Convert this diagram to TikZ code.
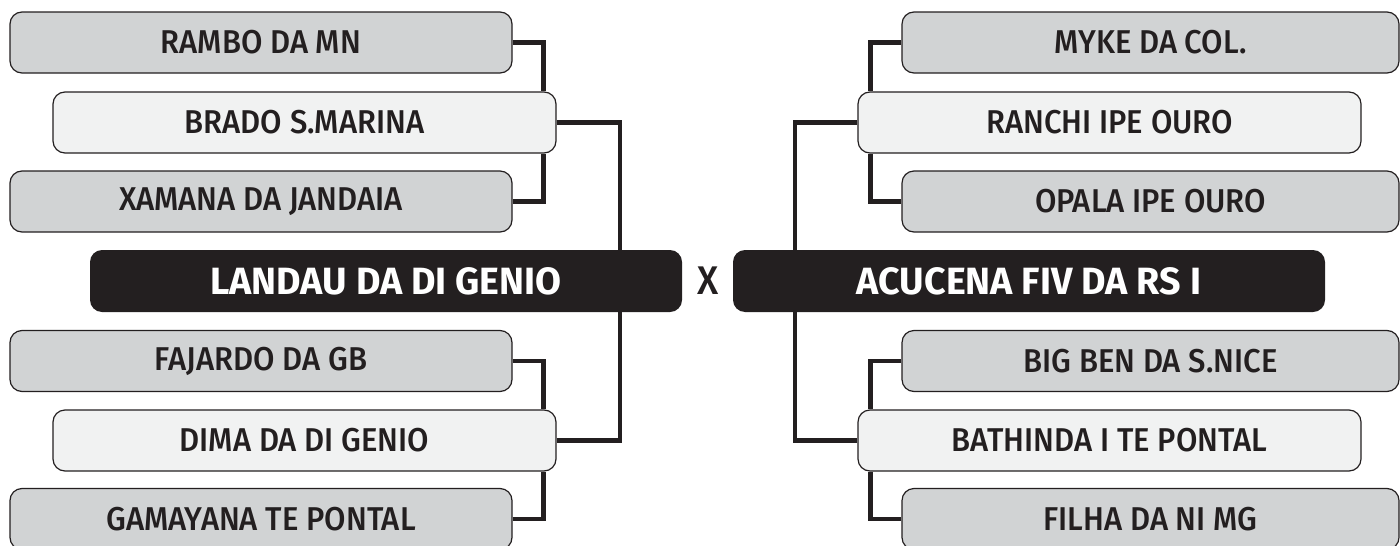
\documentclass[tikz,border=0pt]{standalone}
\usepackage{fontspec}
\setmainfont{Fira Sans}[FakeStretch=0.94,UprightFont=* Medium,BoldFont=* Bold]
\newfontfamily\titlefont{Fira Sans}[FakeStretch=0.99,UprightFont=* Bold]
\usetikzlibrary{backgrounds}
\definecolor{boxgray}{HTML}{D1D3D4}
\definecolor{boxlight}{HTML}{F1F2F2}
\definecolor{inkblack}{HTML}{231F20}
\tikzset{
  horse/.style={draw=inkblack,line width=1.2pt,rounded corners=12pt,minimum height=61pt,
    text=inkblack,font=\fontsize{33}{33}\selectfont},
  sire/.style={horse,fill=boxgray,minimum width=#1},
  son/.style={horse,fill=boxlight,minimum width=503pt},
  champ/.style={fill=inkblack,rounded corners=12pt,minimum width=592pt,minimum height=62pt,
    text=white,font=\fontsize{38}{38}\titlefont},
  bracket/.style={draw=inkblack,line width=4.5pt}
}
\begin{document}
\begin{tikzpicture}[x=1pt,y=-1pt]
\useasboundingbox (0,0) rectangle (1400,546);
% lado esquerdo
\node[sire=502pt] (rambo) at (261,42.5) {RAMBO DA MN};
\node[son] (brado) at (304.5,122.5) {BRADO S.MARINA};
\node[sire=502pt] (xamana) at (261,201.5) {XAMANA DA JANDAIA};
\node[champ] (landau) at (386,281) {LANDAU DA DI GENIO};
\node[sire=502pt] (fajardo) at (261,361) {FAJARDO DA GB};
\node[son] (dima) at (304.5,440.5) {DIMA DA DI GENIO};
\node[sire=502pt] (gamayana) at (261,519) {GAMAYANA TE PONTAL};
% lado direito
\node[sire=497pt] (myke) at (1150.5,42.5) {MYKE DA COL.};
\node[son] (ranchi) at (1109.5,122.5) {RANCHI IPE OURO};
\node[sire=497pt] (opala) at (1150.5,201.5) {OPALA IPE OURO};
\node[champ] (acucena) at (1029,281) {ACUCENA FIV DA RS I};
\node[sire=497pt] (bigben) at (1150.5,361) {BIG BEN DA S.NICE};
\node[son] (bathinda) at (1109.5,440.5) {BATHINDA I TE PONTAL};
\node[sire=497pt] (filha) at (1150.5,519) {FILHA DA NI MG};
\node[text=inkblack,font=\fontsize{40}{40}\selectfont] (versus) at (708,281) {X};
\begin{scope}[on background layer]
\foreach \a/\b in {rambo/north,xamana/south}
  \draw[bracket] (\a.east) -| ([xshift=-13pt]brado.\b\space east);
\foreach \a/\b in {fajardo/north,gamayana/south}
  \draw[bracket] (\a.east) -| ([xshift=-13pt]dima.\b\space east);
\foreach \a/\b in {myke/north,opala/south}
  \draw[bracket] (\a.west) -| ([xshift=13pt]ranchi.\b\space west);
\foreach \a/\b in {bigben/north,filha/south}
  \draw[bracket] (\a.west) -| ([xshift=13pt]bathinda.\b\space west);
\draw[bracket] (brado.east) -| ([xshift=-62pt]landau.north east);
\draw[bracket] (dima.east) -| ([xshift=-62pt]landau.south east);
\draw[bracket] (ranchi.west) -| ([xshift=62pt]acucena.north west);
\draw[bracket] (bathinda.west) -| ([xshift=62pt]acucena.south west);
\end{scope}
\end{tikzpicture}
\end{document}
